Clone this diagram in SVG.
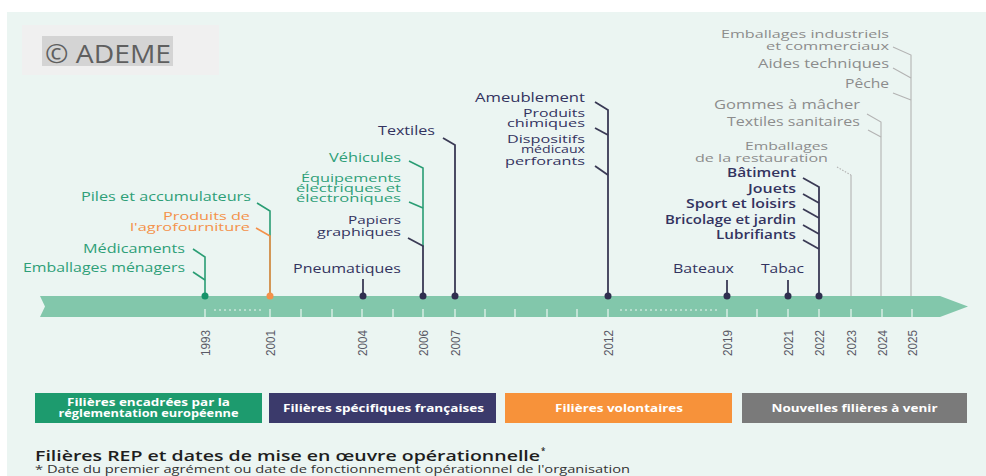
<svg xmlns="http://www.w3.org/2000/svg" width="986" height="476" viewBox="0 0 986 476">
<style>
  text { font-family: "Open Sans", "Liberation Sans", sans-serif; }
  .lbl { font-size: 13px; text-anchor: end; }
  .st { font-size: 11.5px; }
  .g { fill: #2e9f78; }
  .o { fill: #f4914a; }
  .n { fill: #33335f; }
  .b { font-weight: 600; }
  .f { fill: #8c8c8c; }
  .yr { font-family: "Liberation Sans", Arial, sans-serif; font-size: 13px; fill: #5a5a66; }
  .cg { stroke: #2a9d74; stroke-width: 1.6; fill: none; }
  .co { stroke: #f4914a; stroke-width: 1.6; fill: none; }
  .cn { stroke: #3a3a55; stroke-width: 1.8; fill: none; }
  .cf { stroke: #b3b3b3; stroke-width: 1.1; fill: none; }
  .tick { stroke: #ffffff; stroke-width: 1.2; opacity: 0.85; }
  .dots { stroke: #ffffff; stroke-width: 1.2; stroke-dasharray: 2 3; opacity: 0.85; }
  .leg { font-size: 10px; font-weight: 700; text-anchor: middle; fill: #ffffff; }
</style>

<rect x="0" y="0" width="986" height="476" fill="#ffffff"/>
<rect x="7" y="12" width="979" height="464" fill="#ebf5f2"/>

<g id="watermark">
  <rect x="22" y="25" width="197" height="50" fill="#f0f0f0"/>
  <rect x="42" y="36" width="131" height="30" fill="#d4d4d4"/>
  <text x="45" y="63" font-family="Liberation Sans, Arial, sans-serif" font-size="26" fill="#5f5f5f" textLength="126" lengthAdjust="spacingAndGlyphs">© ADEME</text>
</g>

<g id="timeline">
  <polygon points="40,296 940,296 968,306.5 940,317 40,317 45,306.5" fill="#82c7ab"/>
  <g id="ticks">
    <line class="tick" x1="205" y1="309" x2="205" y2="317"/>
    <line class="tick" x1="270" y1="309" x2="270" y2="317"/>
    <line class="tick" x1="301" y1="309" x2="301" y2="317"/>
    <line class="tick" x1="332" y1="309" x2="332" y2="317"/>
    <line class="tick" x1="362" y1="309" x2="362" y2="317"/>
    <line class="tick" x1="393" y1="309" x2="393" y2="317"/>
    <line class="tick" x1="423" y1="309" x2="423" y2="317"/>
    <line class="tick" x1="455" y1="309" x2="455" y2="317"/>
    <line class="tick" x1="485" y1="309" x2="485" y2="317"/>
    <line class="tick" x1="515" y1="309" x2="515" y2="317"/>
    <line class="tick" x1="547" y1="309" x2="547" y2="317"/>
    <line class="tick" x1="577" y1="309" x2="577" y2="317"/>
    <line class="tick" x1="608" y1="309" x2="608" y2="317"/>
    <line class="tick" x1="727" y1="309" x2="727" y2="317"/>
    <line class="tick" x1="757" y1="309" x2="757" y2="317"/>
    <line class="tick" x1="788" y1="309" x2="788" y2="317"/>
    <line class="tick" x1="819" y1="309" x2="819" y2="317"/>
    <line class="tick" x1="851" y1="309" x2="851" y2="317"/>
    <line class="tick" x1="882" y1="309" x2="882" y2="317"/>
    <line class="tick" x1="912" y1="309" x2="912" y2="317"/>
    <line class="dots" x1="214" y1="310" x2="262" y2="310"/>
    <line class="dots" x1="620" y1="310" x2="718" y2="310"/>
  </g>
  <g id="years">
    <text class="yr" transform="translate(209.5,356) rotate(-90)" textLength="26" lengthAdjust="spacingAndGlyphs">1993</text>
    <text class="yr" transform="translate(274.5,356) rotate(-90)" textLength="26" lengthAdjust="spacingAndGlyphs">2001</text>
    <text class="yr" transform="translate(366.5,356) rotate(-90)" textLength="26" lengthAdjust="spacingAndGlyphs">2004</text>
    <text class="yr" transform="translate(427.5,356) rotate(-90)" textLength="26" lengthAdjust="spacingAndGlyphs">2006</text>
    <text class="yr" transform="translate(459.5,356) rotate(-90)" textLength="26" lengthAdjust="spacingAndGlyphs">2007</text>
    <text class="yr" transform="translate(612.5,356) rotate(-90)" textLength="26" lengthAdjust="spacingAndGlyphs">2012</text>
    <text class="yr" transform="translate(731.5,356) rotate(-90)" textLength="26" lengthAdjust="spacingAndGlyphs">2019</text>
    <text class="yr" transform="translate(792.5,356) rotate(-90)" textLength="26" lengthAdjust="spacingAndGlyphs">2021</text>
    <text class="yr" transform="translate(823.5,356) rotate(-90)" textLength="26" lengthAdjust="spacingAndGlyphs">2022</text>
    <text class="yr" transform="translate(855.5,356) rotate(-90)" textLength="26" lengthAdjust="spacingAndGlyphs">2023</text>
    <text class="yr" transform="translate(886.5,356) rotate(-90)" textLength="26" lengthAdjust="spacingAndGlyphs">2024</text>
    <text class="yr" transform="translate(916.5,356) rotate(-90)" textLength="26" lengthAdjust="spacingAndGlyphs">2025</text>
  </g>
</g>

<g id="connectors">
  <path class="cg" d="M257,203 L270,211 L270,296"/>
  <path class="cg" d="M193,249 L205,257 L205,296"/>
  <path class="cg" d="M193,272 L205,280"/>
  <path class="cg" d="M409,161 L423,168 L423,247"/>
  <path class="cg" d="M409,202 L423,208"/>
  <path class="co" d="M256,228 L270,236 L270,296"/>
  <path class="cn" d="M408,238 L423,246 L423,296"/>
  <path class="cn" d="M363,279 L363,296"/>
  <path class="cn" d="M443,138 L455,145 L455,296"/>
  <path class="cn" d="M595,102 L608,110 L608,296"/>
  <path class="cn" d="M595,128 L608,135"/>
  <path class="cn" d="M595,166 L608,175"/>
  <path class="cn" d="M803,178 L819,187 L819,296"/>
  <path class="cn" d="M803,194 L819,203"/>
  <path class="cn" d="M803,209 L819,218"/>
  <path class="cn" d="M803,225 L819,234"/>
  <path class="cn" d="M803,240 L819,249"/>
  <path class="cn" d="M727,280 L727,296"/>
  <path class="cn" d="M788,280 L788,296"/>
  <path class="cf" d="M893,47 L911,55 L911,296"/>
  <path class="cf" d="M893,68 L911,78"/>
  <path class="cf" d="M893,93 L911,100"/>
  <path class="cf" d="M867,114 L881,122 L881,296"/>
  <path class="cf" d="M868,130 L881,137"/>
  <path class="cf" d="M837,167 L851,175" stroke-dasharray="1.5 1.5"/>
  <path class="cf" d="M851,175 L851,296"/>
</g>

<g id="markers">
  <circle cx="205" cy="296" r="3.5" fill="#17936a"/>
  <circle cx="270" cy="296" r="3.5" fill="#f4914a"/>
  <circle cx="363" cy="296" r="3.5" fill="#2f2f4f"/>
  <circle cx="423" cy="296" r="3.5" fill="#2f2f4f"/>
  <circle cx="455" cy="296" r="3.5" fill="#2f2f4f"/>
  <circle cx="608" cy="296" r="3.5" fill="#2f2f4f"/>
  <circle cx="727" cy="296" r="3.5" fill="#2f2f4f"/>
  <circle cx="788" cy="296" r="3.5" fill="#2f2f4f"/>
  <circle cx="819" cy="296" r="3.5" fill="#2f2f4f"/>
</g>

<g id="node-1993">
  <text class="lbl g" x="185" y="253" textLength="102" lengthAdjust="spacingAndGlyphs">Médicaments</text>
  <text class="lbl g" x="185" y="272" textLength="162" lengthAdjust="spacingAndGlyphs">Emballages ménagers</text>
</g>
<g id="node-2001">
  <text class="lbl g" x="251" y="201" textLength="170" lengthAdjust="spacingAndGlyphs">Piles et accumulateurs</text>
  <text class="lbl st o" x="250" y="220" textLength="87" lengthAdjust="spacingAndGlyphs">Produits de</text>
  <text class="lbl st o" x="250" y="231" textLength="120" lengthAdjust="spacingAndGlyphs">l'agrofourniture</text>
</g>
<g id="node-2004">
  <text class="lbl n" x="401" y="273" textLength="108" lengthAdjust="spacingAndGlyphs">Pneumatiques</text>
</g>
<g id="node-2006">
  <text class="lbl g" x="401" y="162" textLength="72" lengthAdjust="spacingAndGlyphs">Véhicules</text>
  <text class="lbl st g" x="401" y="182" textLength="100" lengthAdjust="spacingAndGlyphs">Équipements</text>
  <text class="lbl st g" x="401" y="192" textLength="105" lengthAdjust="spacingAndGlyphs">électriques et</text>
  <text class="lbl st g" x="401" y="202" textLength="105" lengthAdjust="spacingAndGlyphs">électroniques</text>
  <text class="lbl st n" x="401" y="224" textLength="53" lengthAdjust="spacingAndGlyphs">Papiers</text>
  <text class="lbl st n" x="401" y="236" textLength="84" lengthAdjust="spacingAndGlyphs">graphiques</text>
</g>
<g id="node-2007">
  <text class="lbl n" x="435" y="135" textLength="57" lengthAdjust="spacingAndGlyphs">Textiles</text>
</g>
<g id="node-2012">
  <text class="lbl n" x="585" y="102" textLength="110" lengthAdjust="spacingAndGlyphs">Ameublement</text>
  <text class="lbl st n" x="585" y="117" textLength="62" lengthAdjust="spacingAndGlyphs">Produits</text>
  <text class="lbl st n" x="585" y="127" textLength="78" lengthAdjust="spacingAndGlyphs">chimiques</text>
  <text class="lbl st n" x="585" y="143" textLength="78" lengthAdjust="spacingAndGlyphs">Dispositifs</text>
  <text class="lbl st n" x="585" y="153" textLength="64" lengthAdjust="spacingAndGlyphs">médicaux</text>
  <text class="lbl st n" x="585" y="165" textLength="80" lengthAdjust="spacingAndGlyphs">perforants</text>
</g>
<g id="node-2019">
  <text class="lbl n" x="734" y="273" textLength="61" lengthAdjust="spacingAndGlyphs">Bateaux</text>
</g>
<g id="node-2021">
  <text class="lbl n" x="804" y="273" textLength="43" lengthAdjust="spacingAndGlyphs">Tabac</text>
</g>
<g id="node-2022">
  <text class="lbl n b" x="796" y="177" textLength="69" lengthAdjust="spacingAndGlyphs">Bâtiment</text>
  <text class="lbl n b" x="796" y="193" textLength="48" lengthAdjust="spacingAndGlyphs">Jouets</text>
  <text class="lbl n b" x="796" y="208" textLength="110" lengthAdjust="spacingAndGlyphs">Sport et loisirs</text>
  <text class="lbl n b" x="796" y="224" textLength="131" lengthAdjust="spacingAndGlyphs">Bricolage et jardin</text>
  <text class="lbl n b" x="796" y="239" textLength="80" lengthAdjust="spacingAndGlyphs">Lubrifiants</text>
</g>
<g id="node-2023">
  <text class="lbl st f" x="828" y="150" textLength="83" lengthAdjust="spacingAndGlyphs">Emballages</text>
  <text class="lbl st f" x="828" y="162" textLength="133" lengthAdjust="spacingAndGlyphs">de la restauration</text>
</g>
<g id="node-2024">
  <text class="lbl f" x="860" y="109" textLength="146" lengthAdjust="spacingAndGlyphs">Gommes à mâcher</text>
  <text class="lbl f" x="860" y="126" textLength="133" lengthAdjust="spacingAndGlyphs">Textiles sanitaires</text>
</g>
<g id="node-2025">
  <text class="lbl st f" x="889" y="38" textLength="168" lengthAdjust="spacingAndGlyphs">Emballages industriels</text>
  <text class="lbl st f" x="889" y="50" textLength="123" lengthAdjust="spacingAndGlyphs">et commerciaux</text>
  <text class="lbl f" x="889" y="68" textLength="131" lengthAdjust="spacingAndGlyphs">Aides techniques</text>
  <text class="lbl f" x="889" y="88" textLength="44" lengthAdjust="spacingAndGlyphs">Pêche</text>
</g>

<g id="legend">
  <g id="legend-eu">
    <rect x="35" y="393" width="227" height="30" fill="#1d9b6e"/>
    <text class="leg" x="148.5" y="406" textLength="163" lengthAdjust="spacingAndGlyphs">Filières encadrées par la</text>
    <text class="leg" x="148.5" y="417" textLength="180" lengthAdjust="spacingAndGlyphs">réglementation européenne</text>
  </g>
  <g id="legend-fr">
    <rect x="269" y="393" width="227" height="30" fill="#3b3a6b"/>
    <text class="leg" x="383.5" y="412" textLength="201" lengthAdjust="spacingAndGlyphs">Filières spécifiques françaises</text>
  </g>
  <g id="legend-vol">
    <rect x="505" y="393" width="227" height="30" fill="#f7923a"/>
    <text class="leg" x="619" y="412" textLength="128" lengthAdjust="spacingAndGlyphs" fill="#fde6d2">Filières volontaires</text>
  </g>
  <g id="legend-new">
    <rect x="742" y="393" width="225" height="30" fill="#7a7a7a"/>
    <text class="leg" x="854.5" y="412" textLength="166" lengthAdjust="spacingAndGlyphs" fill="#ececec">Nouvelles filières à venir</text>
  </g>
</g>

<g id="title">
  <text x="35" y="461" font-size="14" font-weight="600" fill="#1e1e1e" textLength="505" lengthAdjust="spacingAndGlyphs">Filières REP et dates de mise en œuvre opérationnelle</text>
  <text x="541" y="454" font-size="8" font-weight="600" fill="#1e1e1e">*</text>
  <text x="35" y="473" font-size="10.5" fill="#333333" textLength="595" lengthAdjust="spacingAndGlyphs">* Date du premier agrément ou date de fonctionnement opérationnel de l'organisation</text>
</g>
</svg>
